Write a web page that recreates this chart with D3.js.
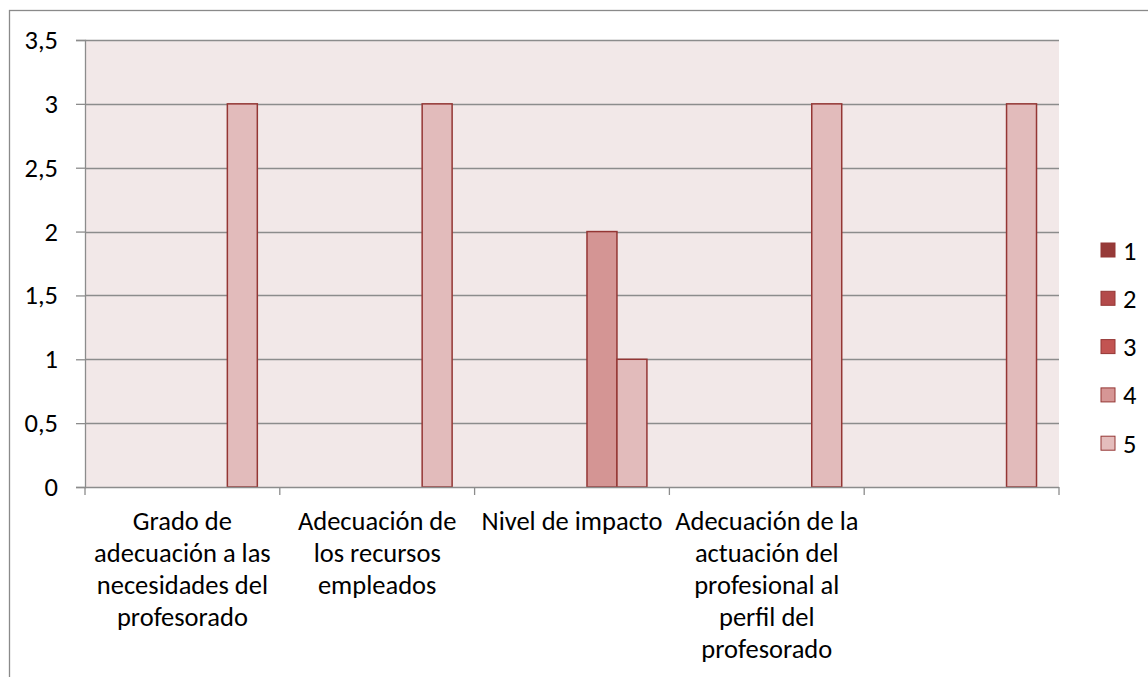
<!DOCTYPE html>
<html>
<head>
<meta charset="utf-8">
<script src="https://cdn.jsdelivr.net/npm/d3@7"></script>
<style>
  html, body { margin: 0; padding: 0; background: #ffffff; }
  svg { display: block; }
  text { font-family: Carlito, Calibri, Lato, "Open Sans", sans-serif; fill: #000; }
</style>
</head>
<body>
<svg id="chart" width="1148" height="677"></svg>
<script>
// ---- data ----
const categories = [
  "Grado de adecuación a las necesidades del profesorado",
  "Adecuación de los recursos empleados",
  "Nivel de impacto",
  "Adecuación de la actuación del profesional al perfil del profesorado",
  ""
];
const categoryLines = [
  ["Grado de", "adecuación a las", "necesidades del", "profesorado"],
  ["Adecuación de", "los recursos", "empleados"],
  ["Nivel de impacto"],
  ["Adecuación de la", "actuación del", "profesional al", "perfil del", "profesorado"],
  []
];
const seriesNames = ["1", "2", "3", "4", "5"];
const series1 = [0, 0, 0, 0, 0];
const series2 = [0, 0, 0, 0, 0];
const series3 = [0, 0, 0, 0, 0];
const series4 = [0, 0, 2, 0, 0];
const series5 = [3, 3, 1, 3, 3];
const yTicks = [0, 0.5, 1, 1.5, 2, 2.5, 3, 3.5];
const yTickLabels = ["0", "0,5", "1", "1,5", "2", "2,5", "3", "3,5"];
const seriesColors = ["#953735", "#B4484A", "#C0504D", "#D49594", "#E2BBBB"];
const legendColors = ["#963A38", "#B34A4A", "#C25452", "#D69695", "#E4BDBC"];

const allSeries = [series1, series2, series3, series4, series5];

// ---- layout ----
const svg = d3.select("#chart");
const plot = { left: 85, right: 1059, top: 40, bottom: 487 };
const fs = "26.5px";

// chart frame
svg.append("rect")
  .attr("x", 9.5).attr("y", 10.5)
  .attr("width", 1160).attr("height", 700)
  .attr("fill", "#fff").attr("stroke", "#8a8a8a").attr("stroke-width", 1.3);

const x = d3.scaleBand().domain(d3.range(categories.length))
  .range([plot.left, plot.right]).paddingInner(0).paddingOuter(0);
const xs = d3.scaleBand().domain(seriesNames)
  .range([0, x.bandwidth()]).paddingInner(0).paddingOuter(0.75);
const y = d3.scaleLinear().domain([0, 3.5]).range([plot.bottom, plot.top]);

// plot background
svg.append("rect")
  .attr("x", plot.left).attr("y", plot.top)
  .attr("width", plot.right - plot.left).attr("height", plot.bottom - plot.top)
  .attr("fill", "#F2E8E8");

// gridlines
svg.append("g").selectAll("line").data(yTicks.filter(v => v > 0)).join("line")
  .attr("x1", plot.left).attr("x2", plot.right)
  .attr("y1", d => Math.round(y(d)) + 0.5).attr("y2", d => Math.round(y(d)) + 0.5)
  .attr("stroke", "#8c8c8c").attr("stroke-width", 1.3);

// bars
const bars = [];
allSeries.forEach((vals, si) => {
  vals.forEach((v, ci) => {
    if (v > 0) bars.push({ si, ci, v });
  });
});
svg.append("g").selectAll("rect").data(bars).join("rect")
  .attr("x", d => x(d.ci) + xs(seriesNames[d.si]))
  .attr("y", d => y(d.v))
  .attr("width", xs.bandwidth())
  .attr("height", d => y(0) - y(d.v))
  .attr("fill", d => seriesColors[d.si])
  .attr("stroke", "#943634").attr("stroke-width", 1.5);

// y axis
const yAxis = d3.axisLeft(y).tickValues(yTicks)
  .tickFormat((d, i) => yTickLabels[i]).tickSize(9).tickPadding(18);
const gy = svg.append("g").attr("transform", `translate(${plot.left},0)`).call(yAxis);
gy.select(".domain").attr("stroke", "#8c8c8c").attr("stroke-width", 1.3);
gy.selectAll(".tick line").attr("stroke", "#8c8c8c").attr("stroke-width", 1.3);
gy.selectAll(".tick text").style("font-size", fs).attr("fill", "#000")
  .style("font-family", "Carlito, Calibri, Lato, sans-serif");

// x axis
const boundaries = d3.range(categories.length + 1).map(i => plot.left + i * x.step());
const gx = svg.append("g");
gx.append("line")
  .attr("x1", plot.left).attr("x2", plot.right)
  .attr("y1", plot.bottom + 0.5).attr("y2", plot.bottom + 0.5)
  .attr("stroke", "#8c8c8c").attr("stroke-width", 1.3);
gx.selectAll("line.tk").data(boundaries).join("line").attr("class", "tk")
  .attr("x1", d => d).attr("x2", d => d)
  .attr("y1", plot.bottom).attr("y2", plot.bottom + 8)
  .attr("stroke", "#8c8c8c").attr("stroke-width", 1.3);

// category labels
categoryLines.forEach((lines, ci) => {
  const cx = x(ci) + x.bandwidth() / 2;
  const t = svg.append("text").attr("text-anchor", "middle").style("font-size", fs);
  lines.forEach((ln, li) => {
    t.append("tspan").attr("x", cx).attr("y", 530 + li * 32).text(ln);
  });
});

// legend
const lg = svg.append("g");
seriesNames.forEach((name, i) => {
  const cy = 250 + i * 48.3;
  lg.append("rect")
    .attr("x", 1101).attr("y", cy - 7)
    .attr("width", 14).attr("height", 14)
    .attr("fill", legendColors[i]).attr("stroke", "#943634").attr("stroke-width", 1);
  lg.append("text").attr("x", 1123).attr("y", cy).attr("dy", "0.36em")
    .style("font-size", fs).text(name);
});
</script>
</body>
</html>
